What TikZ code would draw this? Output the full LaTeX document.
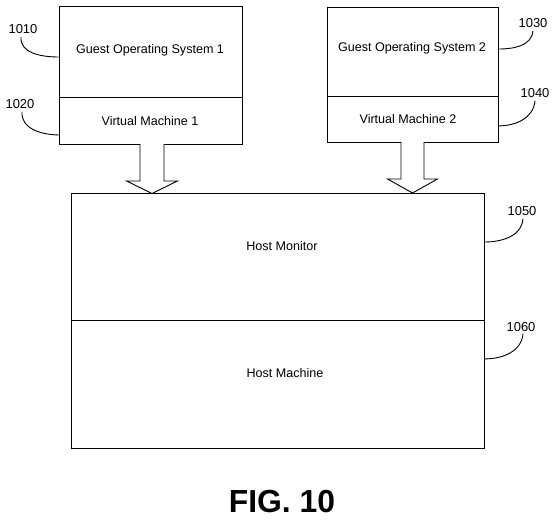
\documentclass[tikz,border=0pt]{standalone}
\usepackage{fontspec}
\setmainfont{Liberation Sans}
\begin{document}
\begin{tikzpicture}[x=1bp,y=-1bp,
  box/.style={draw,line width=0.9bp,inner sep=0pt,minimum width=#1},
  lbl/.style={inner sep=0pt,font=\fontsize{12.6}{14}\selectfont},
  num/.style={inner sep=1pt,font=\fontsize{13}{15}\selectfont},
  leader/.style={line width=0.9bp},
  blockarrow/.style={line width=0.9bp,line join=miter},
  figlbl/.style={inner sep=0pt,font=\fontsize{32}{36}\bfseries\selectfont}]
\useasboundingbox (0,0) rectangle (555,522);
% boxes
\node[box=183bp,minimum height=91bp] (gos1) at (150.5,51.5) {};
\node[box=183bp,minimum height=47bp,anchor=north] (vm1) at (gos1.south) {};
\node[box=171bp,minimum height=89bp] (gos2) at (412.5,51.5) {};
\node[box=171bp,minimum height=46bp,anchor=north] (vm2) at (gos2.south) {};
\node[box=413bp,minimum height=127bp] (hm) at (277.5,256.5) {};
\node[box=413bp,minimum height=128bp,anchor=north] (hma) at (hm.south) {};
% texts
\node[lbl] (tgos1) at (150,50) {Guest Operating System 1};
\node[lbl] (tvm1) at (150,121) {Virtual Machine 1};
\node[lbl] (tgos2) at (412,48) {Guest Operating System 2};
\node[lbl] (tvm2) at (408,119.5) {Virtual Machine 2};
\node[lbl] (thm) at (282,246) {Host Monitor};
\node[lbl] (thma) at (285,373) {Host Machine};
\node[figlbl] (fig) at (282,502) {FIG. 10};
% arrows
\coordinate (a1s) at (152,144);
\coordinate (a1t) at (152,193.5);
\fill[white] (a1s) ++(-11.5,-2) rectangle ++(23,6);
\draw[blockarrow,fill=white] (a1s) ++(-12,0) -- ++(0,37) -- ++(-13.5,0) -- (a1t) -- ++(25.5,-12.5) -- ++(-13.5,0) -- ++(0,-37);
\coordinate (a2s) at (412.5,142);
\coordinate (a2t) at (412.5,193);
\fill[white] (a2s) ++(-11,-2) rectangle ++(22,6);
\draw[blockarrow,fill=white] (a2s) ++(-11.5,0) -- ++(0,37) -- ++(-13.5,0) -- (a2t) -- ++(25,-14) -- ++(-13.5,0) -- ++(0,-37);
% reference numerals
\node[num] (n1010) at (23,29) {1010};
\node[num] (n1020) at (20,104) {1020};
\node[num] (n1030) at (533,23) {1030};
\node[num] (n1040) at (535,93) {1040};
\node[num] (n1050) at (522,211) {1050};
\node[num] (n1060) at (521,327) {1060};
\coordinate (e1010) at ([yshift=-5.5bp]gos1.west);
\coordinate (e1020) at ([yshift=-13.5bp]vm1.west);
\coordinate (e1030) at ([yshift=2.5bp]gos2.east);
\coordinate (e1040) at ([yshift=-6bp]vm2.east);
\coordinate (e1050) at ([yshift=14.5bp]hm.east);
\coordinate (e1060) at ([yshift=26bp]hma.east);
\draw[leader] ([xshift=-2bp,yshift=-2bp]n1010.south) to[out=-95,in=180] (e1010);
\draw[leader] ([xshift=2bp,yshift=-2bp]n1020.south) to[out=-95,in=180] (e1020);
\draw[leader] ([yshift=-2bp]n1030.south) to[out=-95,in=0] (e1030);
\draw[leader] ([yshift=-2bp]n1040.south) to[out=-95,in=0] (e1040);
\draw[leader] ([xshift=1bp,yshift=-2bp]n1050.south) to[out=-95,in=0] (e1050);
\draw[leader] ([xshift=2bp,yshift=-1bp]n1060.south) to[out=-95,in=0] (e1060);
\end{tikzpicture}
\end{document}
